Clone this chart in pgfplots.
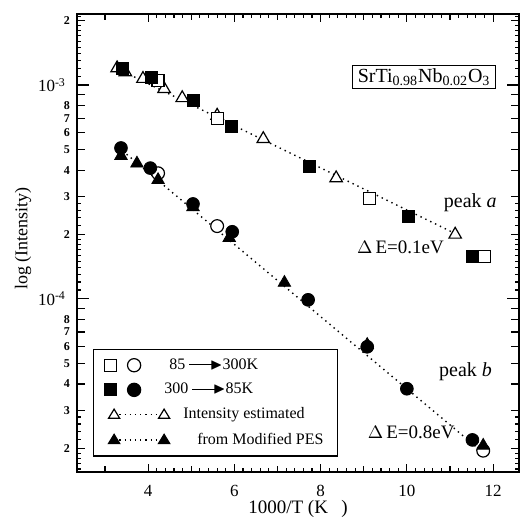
\documentclass[border=0pt]{standalone}
\usepackage{amssymb}
\usepackage{fontspec}
\setmainfont{Liberation Serif}
\usepackage{pgfplots}
\pgfplotsset{compat=1.18}

% peak a
\pgfplotstableread{
x y
3.28 1.20e-3
3.47 1.15e-3
3.88 1.07e-3
4.37 0.96e-3
4.79 0.87e-3
5.60 0.72e-3
6.67 5.6e-4
8.36 3.67e-4
11.12 2.0e-4
}\atri
\pgfplotstableread{
x y
4.23 1.05e-3
5.60 7.0e-4
9.13 2.96e-4
11.80 1.58e-4
}\asqopen
\pgfplotstableread{
x y
3.40 1.20e-3
4.07 1.09e-3
5.04 0.85e-3
5.93 6.4e-4
7.74 4.18e-4
10.03 2.44e-4
11.52 1.58e-4
}\asqfill
% peak b
\pgfplotstableread{
x y
4.23 3.87e-4
5.60 2.19e-4
11.77 1.95e-5
}\bcircopen
\pgfplotstableread{
x y
3.37 5.08e-4
4.05 4.09e-4
5.04 2.78e-4
5.95 2.06e-4
7.71 9.9e-5
9.08 5.97e-5
10.00 3.8e-5
11.52 2.19e-5
}\bcircfill
\pgfplotstableread{
x y
3.37 4.67e-4
3.74 4.30e-4
4.23 3.60e-4
5.04 2.69e-4
5.88 1.93e-4
7.16 1.19e-4
9.08 6.1e-5
11.77 2.06e-5
}\btri

\newcommand\arr{\rule[0.26em]{1.5em}{0.5pt}\kern-0.2em$\blacktriangleright$}

\begin{document}
\begin{tikzpicture}
\begin{axis}[
  width=221pt, height=229pt, scale only axis,
  ymode=log,
  xmin=2.35, xmax=12.6, ymin=1.55e-5, ymax=2.15e-3,
  xtick={4,6,8,10,12}, minor x tick num=9,
  extra x ticks={3,5,7,9,11}, extra x tick labels={},
  extra x tick style={major tick length=3pt},
  ytick={2e-5,3e-5,4e-5,5e-5,6e-5,7e-5,8e-5,9e-5,2e-4,3e-4,4e-4,5e-4,6e-4,7e-4,8e-4,9e-4,2e-3},
  yticklabels={2,3,4,5,6,7,8,,2,3,4,5,6,7,8,,2},
  minor ytick={1.6e-5,1.7e-5,1.8e-5,1.9e-5,2.2e-5,2.4e-5,2.6e-5,2.8e-5,
    1.1e-4,1.2e-4,1.3e-4,1.4e-4,1.5e-4,1.6e-4,1.7e-4,1.8e-4,1.9e-4,2.2e-4,2.4e-4,2.6e-4,2.8e-4,
    1.1e-3,1.2e-3,1.3e-3,1.4e-3,1.5e-3,1.6e-3,1.7e-3,1.8e-3,1.9e-3,2.1e-3},
  extra y ticks={1e-4,1e-3},
  extra y tick labels={10\textsuperscript{-4},10\textsuperscript{-3}},
  extra y tick style={major tick length=6pt,
    yticklabel style={font=\mdseries\fontsize{8.5}{8.5}\selectfont, xshift=-2pt}},
  major tick length=4pt, minor tick length=1.8pt,
  tick style={line width=0.6pt, black},
  axis line style={line width=1pt},
  /pgf/number format/assume math mode=true,
  xticklabel style={font=\fontsize{8.5}{8.5}\selectfont, yshift=-3pt},
  yticklabel style={font=\bfseries\fontsize{6}{6}\selectfont},
  xlabel={1000/T (K\hspace{0.7em})},
  xlabel style={font=\fontsize{9.5}{10}\selectfont, at={(axis description cs:0.5,-0.08)}, anchor=center},
  ylabel={log (Intensity)},
  ylabel style={font=\fontsize{9}{10}\selectfont, at={(axis description cs:-0.122,0.51)}, anchor=center},
  legend cell align=left,
  legend style={at={(axis description cs:0.036,0.269)}, anchor=north west,
    draw=black, line width=0.6pt, font=\fontsize{8}{9}\selectfont,
    inner xsep=5pt, inner ysep=2.5pt, row sep=1.5pt,
    /tikz/every odd column/.append style={column sep=4.5pt}},
]
\addlegendimage{legend image code/.code={
  \draw[black,fill=white,line width=0.6pt] (-3pt,-3pt) rectangle (3pt,3pt);
  \draw[black,fill=white,line width=0.6pt] (12pt,0pt) circle (3.3pt);}}
\addlegendentry{\hspace*{-7pt}85 \arr 300K}
\addlegendimage{legend image code/.code={
  \draw[black,fill=black,line width=0.6pt] (-3pt,-3pt) rectangle (3pt,3pt);
  \draw[black,fill=black,line width=0.6pt] (12pt,0pt) circle (3.3pt);}}
\addlegendentry{\hspace*{-9.5pt}300 \arr 85K}
\addlegendimage{legend image code/.code={
  \draw[black,dotted,line width=0.6pt] (2pt,0pt) -- (27pt,0pt);
  \draw[black,fill=white,line width=0.6pt] (2pt,2.8pt) -- (-0.8pt,-1.8pt) -- (4.8pt,-1.8pt) -- cycle;
  \draw[black,fill=white,line width=0.6pt] (27pt,2.8pt) -- (24.2pt,-1.8pt) -- (29.8pt,-1.8pt) -- cycle;}}
\addlegendentry{Intensity estimated}
\addlegendimage{legend image code/.code={
  \draw[black,dotted,line width=0.6pt] (2pt,0pt) -- (27pt,0pt);
  \draw[black,fill=black,line width=0.6pt] (2pt,2.8pt) -- (-0.8pt,-1.8pt) -- (4.8pt,-1.8pt) -- cycle;
  \draw[black,fill=black,line width=0.6pt] (27pt,2.8pt) -- (24.2pt,-1.8pt) -- (29.8pt,-1.8pt) -- cycle;}}
\addlegendentry{\hspace*{7pt}from Modified PES}

% fitted lines
\addplot[black, dotted, line width=0.7pt] coordinates {(3.45,1.15e-3) (11.1,2.03e-4)};
\addplot[black, dotted, line width=0.7pt] coordinates {(3.5,4.75e-4) (11.65,2.0e-5)};

\addplot[only marks, mark=triangle*, mark size=3.6pt, mark options={fill=white, draw=black, line width=0.6pt}] table {\atri};
\addplot[only marks, mark=square*, mark size=3pt, mark options={fill=white, draw=black, line width=0.6pt}] table {\asqopen};
\addplot[only marks, mark=square*, mark size=3pt, mark options={fill=black, draw=black}] table {\asqfill};
\addplot[only marks, mark=*, mark size=3.2pt, mark options={fill=white, draw=black, line width=0.6pt}] table {\bcircopen};
\addplot[only marks, mark=*, mark size=3.2pt, mark options={fill=black, draw=black}] table {\bcircfill};
\addplot[only marks, mark=triangle*, mark size=3.6pt, mark options={fill=black, draw=black}] table {\btri};

\node[draw, line width=0.6pt, inner xsep=2.5pt, inner ysep=1.5pt, font=\fontsize{10}{11}\selectfont]
  at (axis cs:10.40,1.09e-3) {SrTi\textsubscript{0.98}Nb\textsubscript{0.02}O\textsubscript{3}};
\node[font=\fontsize{10}{11}\selectfont] at (axis cs:11.47,2.81e-4) {peak \textit{a}};
\node[font=\fontsize{10}{11}\selectfont] at (axis cs:11.36,4.56e-5) {peak \textit{b}};
\node[font=\fontsize{9.5}{11}\selectfont] at (axis cs:9.85,1.75e-4) {$\Delta$\,E=0.1eV};
\node[font=\fontsize{9.5}{11}\selectfont] at (axis cs:10.10,2.37e-5) {$\Delta$\,E=0.8eV};
\end{axis}
\pgfresetboundingbox
\path ([shift={(-38.5pt,-24pt)}]current axis.south west) rectangle ([shift={(1pt,7pt)}]current axis.north east);
\end{tikzpicture}
\end{document}
